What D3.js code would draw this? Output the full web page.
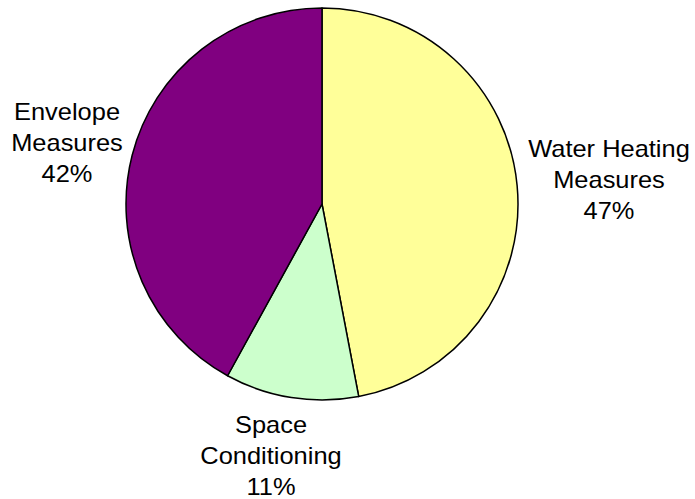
<!DOCTYPE html>
<html>
<head>
<meta charset="utf-8">
<script src="https://cdn.jsdelivr.net/npm/d3@7"></script>
<style>
  body { margin: 0; background: #fff; }
  text { font-family: "Liberation Sans", Arial, Helvetica, sans-serif; fill: #000; }
</style>
</head>
<body>
<div id="viz"></div>
<script>
var categories = ['Water Heating Measures', 'Space Conditioning', 'Envelope Measures'],
    values = [47, 11, 42],
    labelLines = [['Water Heating', 'Measures', '47%'],
                  ['Space', 'Conditioning', '11%'],
                  ['Envelope', 'Measures', '42%']],
    colors = ['#FFFF99', '#CCFFCC', '#800080']

var width = 695,
    height = 499,
    cx = 322,
    cy = 204,
    radius = 196,
    lineHeight = 30.8

// label anchor points (centre x, first baseline y)
var labelPos = [[609, 157], [271, 433], [67, 120]]

var svg = d3.select('#viz').append('svg')
    .attr('width', width)
    .attr('height', height)

var pie = d3.pie()
    .sort(null)
    .value(function(d) { return d })

var arc = d3.arc()
    .innerRadius(0)
    .outerRadius(radius)

var g = svg.append('g')
    .attr('transform', 'translate(' + cx + ',' + cy + ')')

g.selectAll('path')
    .data(pie(values))
    .enter().append('path')
    .attr('d', arc)
    .attr('fill', function(d, i) { return colors[i] })
    .attr('stroke', '#000')
    .attr('stroke-width', 1.5)
    .attr('stroke-linejoin', 'round')

// text in the reference is a little wider than Liberation Sans
var labels = svg.selectAll('text.lbl')
    .data(labelLines)
    .enter().append('text')
    .attr('class', 'lbl')
    .attr('text-anchor', 'middle')
    .attr('font-size', 24)
    .attr('transform', function(d, i) {
        return 'translate(' + labelPos[i][0] + ',' + labelPos[i][1] + ') scale(1.06,1)'
    })

labels.selectAll('tspan')
    .data(function(d) { return d })
    .enter().append('tspan')
    .attr('x', 0)
    .attr('y', function(d, j) { return j * lineHeight })
    .text(function(d) { return d })
</script>
</body>
</html>
